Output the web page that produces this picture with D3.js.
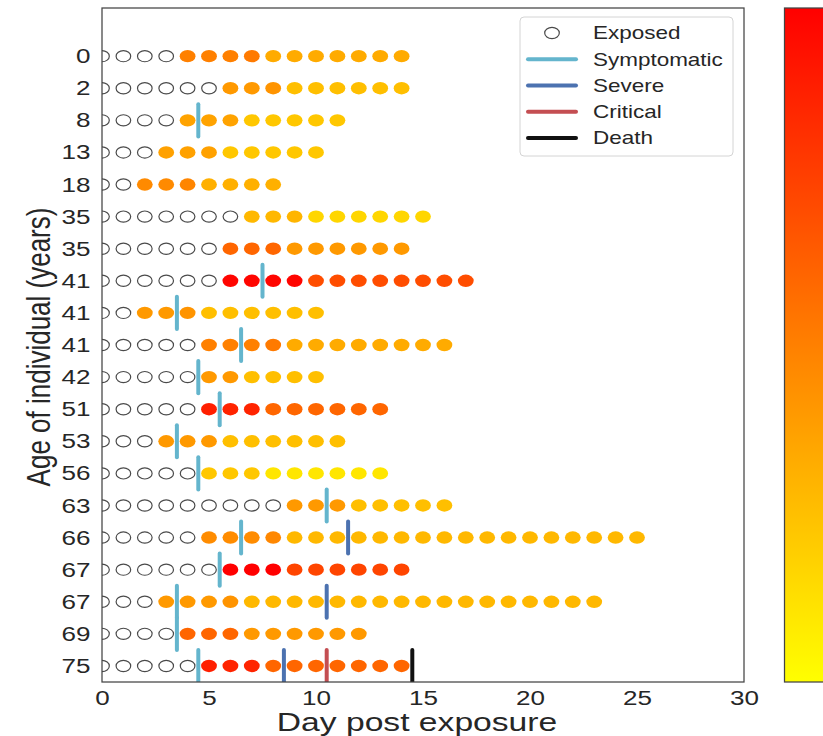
<!DOCTYPE html>
<html>
<head>
<meta charset="utf-8">
<script src="https://cdn.jsdelivr.net/npm/d3@7/dist/d3.min.js"></script>
<style>
  html, body { margin: 0; padding: 0; background: #fff; }
  svg { display: block; }
  text { font-family: "Liberation Sans", Arial, sans-serif; fill: #262626; }
</style>
</head>
<body>
<svg id="chart" width="823" height="736"></svg>
<script>
// Individuals (top to bottom), labelled by age
const ages = ["0", "2", "8", "13", "18", "35", "35", "41", "41", "41",
              "42", "51", "53", "56", "63", "66", "67", "67", "69", "75"];

// First day with detectable shedding (days before it are "exposed")
const shedStart = [4, 6, 4, 3, 2, 7, 6, 6, 2, 5, 5, 5, 3, 5, 9, 5, 6, 3, 4, 5];

// Relative shedding level per day from shedStart onward (0 = low, 1 = high)
const shedLevels = [
  [0.50, 0.50, 0.50, 0.52, 0.33, 0.33, 0.33, 0.33, 0.33, 0.33, 0.33],
  [0.40, 0.40, 0.42, 0.25, 0.25, 0.25, 0.25, 0.25, 0.25],
  [0.36, 0.36, 0.36, 0.22, 0.22, 0.22, 0.22, 0.22],
  [0.37, 0.37, 0.37, 0.22, 0.22, 0.22, 0.22, 0.22],
  [0.46, 0.46, 0.48, 0.31, 0.31, 0.31, 0.31],
  [0.28, 0.28, 0.29, 0.16, 0.16, 0.16, 0.16, 0.16, 0.16],
  [0.60, 0.60, 0.60, 0.40, 0.40, 0.40, 0.40, 0.40, 0.40],
  [0.98, 0.98, 0.98, 0.98, 0.70, 0.70, 0.70, 0.70, 0.70, 0.70, 0.70, 0.70],
  [0.40, 0.40, 0.42, 0.25, 0.25, 0.25, 0.25, 0.25, 0.25],
  [0.50, 0.50, 0.50, 0.52, 0.33, 0.33, 0.33, 0.33, 0.33, 0.33, 0.33, 0.33],
  [0.40, 0.40, 0.25, 0.25, 0.25, 0.25],
  [0.88, 0.86, 0.86, 0.60, 0.60, 0.60, 0.60, 0.60, 0.60],
  [0.40, 0.40, 0.40, 0.25, 0.25, 0.25, 0.25, 0.25, 0.25],
  [0.22, 0.22, 0.22, 0.10, 0.10, 0.10, 0.10, 0.10, 0.10],
  [0.40, 0.40, 0.40, 0.25, 0.25, 0.25, 0.25, 0.25],
  [0.45, 0.45, 0.45, 0.47, 0.28, 0.28, 0.28, 0.28, 0.28, 0.28, 0.28, 0.28, 0.28, 0.28, 0.28, 0.28, 0.28, 0.28, 0.28, 0.28, 0.28],
  [1.00, 1.00, 1.00, 0.73, 0.73, 0.73, 0.73, 0.73, 0.73],
  [0.40, 0.40, 0.40, 0.42, 0.28, 0.28, 0.28, 0.28, 0.28, 0.28, 0.28, 0.28, 0.28, 0.28, 0.28, 0.28, 0.28, 0.28, 0.28, 0.28, 0.28],
  [0.60, 0.60, 0.60, 0.40, 0.40, 0.40, 0.40, 0.40, 0.40],
  [0.88, 0.86, 0.86, 0.60, 0.60, 0.60, 0.60, 0.60, 0.60, 0.60]
];

// Clinical milestones: [row index, day]
const symptomaticEvents = [[2, 4.5], [7, 7.5], [8, 3.5], [9, 6.5], [10, 4.5], [11, 5.5], [12, 3.5],
                           [13, 4.5], [14, 10.5], [15, 6.5], [16, 5.5], [17, 3.5], [18, 3.5], [19, 4.5]];
const severeEvents = [[15, 11.5], [17, 10.5], [19, 8.5]];
const criticalEvents = [[19, 10.5]];
const deathEvents = [[19, 14.5]];

const xTicks = [0, 5, 10, 15, 20, 25, 30];

const legendItems = [
  { label: "Exposed", kind: "circle" },
  { label: "Symptomatic", kind: "line", color: "#64B5CD" },
  { label: "Severe", kind: "line", color: "#4C72B0" },
  { label: "Critical", kind: "line", color: "#C44E52" },
  { label: "Death", kind: "line", color: "#111111" }
];

// ---- layout ----
const SX = 1.27;                 // horizontal stretch applied to text and markers
const plot = { left: 102, right: 744, top: 8, bottom: 682 };

const svg = d3.select("#chart");

const x = d3.scaleLinear().domain([0, 30]).range([plot.left, plot.right]);
const y = d3.scaleLinear().domain([-1.5, 19.5]).range([plot.top, plot.bottom]);
const color = d3.scaleLinear().domain([0, 1]).range(["#ffff00", "#ff0000"]).interpolate(d3.interpolateRgb);

svg.append("defs").append("clipPath").attr("id", "plot-clip")
  .append("rect")
  .attr("x", plot.left).attr("y", plot.top)
  .attr("width", plot.right - plot.left).attr("height", plot.bottom - plot.top);

const g = svg.append("g").attr("clip-path", "url(#plot-clip)");

// exposed days: open circles
const exposed = [];
shedStart.forEach((s, row) => { for (let d = 0; d < s; d++) exposed.push({ row, day: d }); });

const RX = 7.9, RY = 6.2;
g.selectAll("ellipse.exposed").data(exposed).join("ellipse")
  .attr("class", "exposed")
  .attr("cx", d => x(d.day)).attr("cy", d => y(d.row))
  .attr("rx", RX - 0.6).attr("ry", RY - 0.6)
  .attr("fill", "#fff").attr("stroke", "#4a4a4a").attr("stroke-width", 1.2);

// shedding days: filled dots coloured by level
const shed = [];
shedLevels.forEach((levels, row) => levels.forEach((v, i) => shed.push({ row, day: shedStart[row] + i, v })));

g.selectAll("ellipse.shed").data(shed).join("ellipse")
  .attr("class", "shed")
  .attr("cx", d => x(d.day)).attr("cy", d => y(d.row))
  .attr("rx", RX).attr("ry", RY)
  .attr("fill", d => color(d.v));

// milestone bars
function drawEvents(events, stroke) {
  g.selectAll(null).data(events).join("line")
    .attr("x1", d => x(d[1])).attr("x2", d => x(d[1]))
    .attr("y1", d => y(d[0] - 0.5)).attr("y2", d => y(d[0] + 0.5))
    .attr("stroke", stroke).attr("stroke-width", 4).attr("stroke-linecap", "round");
}
drawEvents(symptomaticEvents, "#64B5CD");
drawEvents(severeEvents, "#4C72B0");
drawEvents(criticalEvents, "#C44E52");
drawEvents(deathEvents, "#111111");

// frame
svg.append("rect")
  .attr("x", plot.left).attr("y", plot.top)
  .attr("width", plot.right - plot.left).attr("height", plot.bottom - plot.top)
  .attr("fill", "none").attr("stroke", "#444").attr("stroke-width", 1.25);

// axes
const xAxis = svg.append("g")
  .attr("transform", `translate(0,${plot.bottom})`)
  .call(d3.axisBottom(x).tickValues(xTicks).tickSize(0).tickPadding(8));
xAxis.select(".domain").remove();
xAxis.selectAll("text")
  .attr("font-size", 20.5).attr("font-family", "Liberation Sans, Arial, sans-serif")
  .attr("fill", "#262626").attr("transform", `scale(${SX},1)`);

const yAxis = svg.append("g")
  .attr("transform", `translate(${plot.left},0)`)
  .call(d3.axisLeft(y).tickValues(d3.range(ages.length)).tickFormat(i => ages[i]).tickSize(0).tickPadding(9));
yAxis.select(".domain").remove();
yAxis.selectAll("text")
  .attr("font-size", 20.5).attr("font-family", "Liberation Sans, Arial, sans-serif")
  .attr("fill", "#262626").attr("transform", `scale(${SX},1)`);

// axis titles
svg.append("text")
  .attr("transform", `translate(417,731) scale(${SX},1)`)
  .attr("text-anchor", "middle").attr("font-size", 26.5)
  .text("Day post exposure");

svg.append("text")
  .attr("transform", `translate(50,${(plot.top + plot.bottom) / 2 + 2}) scale(${SX},1) rotate(-90)`)
  .attr("text-anchor", "middle").attr("font-size", 26)
  .text("Age of individual (years)");

// legend
const lg = svg.append("g");
lg.append("rect")
  .attr("x", 520).attr("y", 17).attr("width", 213).attr("height", 139)
  .attr("rx", 4).attr("fill", "#fff").attr("fill-opacity", 0.85)
  .attr("stroke", "#d4d4d4").attr("stroke-width", 1);

const legendY = d3.scaleLinear().domain([0, 4]).range([33, 138]);
const rows = lg.selectAll("g.item").data(legendItems).join("g")
  .attr("class", "item")
  .attr("transform", (d, i) => `translate(0,${legendY(i)})`);

rows.filter(d => d.kind === "circle").append("ellipse")
  .attr("cx", 552).attr("cy", 0).attr("rx", RX - 0.6).attr("ry", RY - 0.6)
  .attr("fill", "#fff").attr("stroke", "#4a4a4a").attr("stroke-width", 1.2);

rows.filter(d => d.kind === "line").append("line")
  .attr("x1", 528).attr("x2", 576).attr("y1", 0).attr("y2", 0)
  .attr("stroke", d => d.color).attr("stroke-width", 4).attr("stroke-linecap", "round");

rows.append("text")
  .attr("transform", `translate(593,0) scale(${SX},1)`)
  .attr("dy", "0.36em").attr("font-size", 17.7)
  .text(d => d.label);

// colour bar
const grad = svg.select("defs").append("linearGradient")
  .attr("id", "cbar").attr("x1", 0).attr("x2", 0).attr("y1", 1).attr("y2", 0);
grad.selectAll("stop").data(d3.range(0, 1.0001, 0.1)).join("stop")
  .attr("offset", d => d).attr("stop-color", d => color(d));

svg.append("rect")
  .attr("x", 784.5).attr("y", plot.top).attr("width", 60).attr("height", plot.bottom - plot.top)
  .attr("fill", "url(#cbar)").attr("stroke", "#444").attr("stroke-width", 1.25);
</script>
</body>
</html>
